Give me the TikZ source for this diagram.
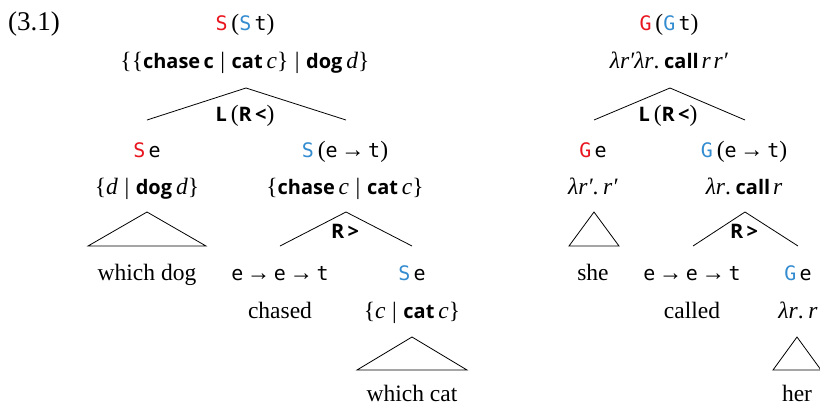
\documentclass[tikz,border=0pt]{standalone}
\usepackage{fontspec}
\setmainfont{Liberation Serif}
\newfontfamily\bsf{Open Sans}[Scale=0.85]
\newfontfamily\tyf{DejaVu Sans Mono}[Scale=0.85]
\definecolor{cred}{RGB}{232,20,30}
\definecolor{cblue}{RGB}{52,140,208}
\newcommand{\ty}[1]{{\tyf #1}}
\newcommand{\cst}[1]{{\bsf\bfseries #1}}
\newcommand{\vr}[1]{\textit{#1}}
\newcommand{\sep}{\hspace{0.28em}|\hspace{0.28em}}
\newcommand{\arr}{\hspace{0.15em}→\hspace{0.15em}}
\begin{document}
\begin{tikzpicture}[x=1pt,y=-1pt,
  every node/.style={anchor=base, inner sep=0pt, font=\fontsize{23.5}{28}\selectfont},
  tri/.style={line width=0.8pt, line join=miter}]
\useasboundingbox (0,0) rectangle (820,405);
% ---------- left tree ----------
\node (num) [anchor=base west, font=\fontsize{27}{32}\selectfont] at (8,30) {(3.1)};
\node (sroot) at (245,30) {\ty{\textcolor{cred}{S}}\,(\ty{\textcolor{cblue}{S}\,t})};
\node (sden) at (245,68) {\{\{\cst{chase\,c}\sep\cst{cat}\,\vr{c}\}\sep\cst{dog}\,\vr{d}\}};
\coordinate (a1) at (246,88); \coordinate (a1l) at (147,120); \coordinate (a1r) at (346,120);
\draw[tri] (a1l) -- (a1) -- (a1r);
\node (sop) at (245,121) {\cst{L}\,(\cst{R\,<})};
\node (sl) at (147,157) {\ty{\textcolor{cred}{S}\,e}};
\node (sr) at (345,157) {\ty{\textcolor{cblue}{S}}\,(\ty{e}\arr\ty{t})};
\node (sld) at (147,194) {\{\vr{d}\sep\cst{dog}\,\vr{d}\}};
\node (srd) at (345,194) {\{\cst{chase}\,\vr{c}\sep\cst{cat}\,\vr{c}\}};
\coordinate (t1) at (147,212); \coordinate (t1l) at (88,246); \coordinate (t1r) at (206,246);
\draw[tri] (t1) -- (t1l) -- (t1r) -- cycle;
\coordinate (a2) at (346,212); \coordinate (a2l) at (280,246); \coordinate (a2r) at (412,246);
\draw[tri] (a2l) -- (a2) -- (a2r);
\node (srop) at (345,238) {\cst{R\,>}};
\node (wd) at (147,280) {which dog};
\node (vt) at (280,280) {\ty{e}\arr\ty{e}\arr\ty{t}};
\node (ol) at (412,280) {\ty{\textcolor{cblue}{S}\,e}};
\node (ch) at (280,318) {chased};
\node (old) at (412,318) {\{\vr{c}\sep\cst{cat}\,\vr{c}\}};
\coordinate (t2) at (412,337); \coordinate (t2l) at (357,370); \coordinate (t2r) at (467,370);
\draw[tri] (t2) -- (t2l) -- (t2r) -- cycle;
\node (wc) at (412,401) {which cat};
% ---------- right tree ----------
\node (groot) at (669,30) {\ty{\textcolor{cred}{G}}\,(\ty{\textcolor{cblue}{G}\,t})};
\node (gden) at (669,68) {\vr{λr′λr}.\hspace{0.2em}\cst{call}\hspace{0.12em}\vr{r}\hspace{0.12em}\vr{r′}};
\coordinate (b1) at (670,88); \coordinate (b1l) at (594,120); \coordinate (b1r) at (745,120);
\draw[tri] (b1l) -- (b1) -- (b1r);
\node (gop) at (668,121) {\cst{L}\,(\cst{R\,<})};
\node (gl) at (593,157) {\ty{\textcolor{cred}{G}\,e}};
\node (gr) at (744,157) {\ty{\textcolor{cblue}{G}}\,(\ty{e}\arr\ty{t})};
\node (gld) at (593,194) {\vr{λr′}.\hspace{0.2em}\vr{r′}};
\node (grd) at (744,194) {\vr{λr}.\hspace{0.2em}\cst{call}\hspace{0.12em}\vr{r}};
\coordinate (u1) at (594,212); \coordinate (u1l) at (569,246); \coordinate (u1r) at (619,246);
\draw[tri] (u1) -- (u1l) -- (u1r) -- cycle;
\coordinate (b2) at (745,212); \coordinate (b2l) at (693,246); \coordinate (b2r) at (798,246);
\draw[tri] (b2l) -- (b2) -- (b2r);
\node (grop) at (744,238) {\cst{R\,>}};
\node (she) at (593,280) {she};
\node (vt2) at (692,280) {\ty{e}\arr\ty{e}\arr\ty{t}};
\node (go) at (798,280) {\ty{\textcolor{cblue}{G}\,e}};
\node (cal) at (692,318) {called};
\node (god) at (798,318) {\vr{λr}.\hspace{0.2em}\vr{r}};
\coordinate (u2) at (797,337); \coordinate (u2l) at (773,370); \coordinate (u2r) at (821,370);
\draw[tri] (u2) -- (u2l) -- (u2r) -- cycle;
\node (her) at (797,401) {her};
\end{tikzpicture}
\end{document}
